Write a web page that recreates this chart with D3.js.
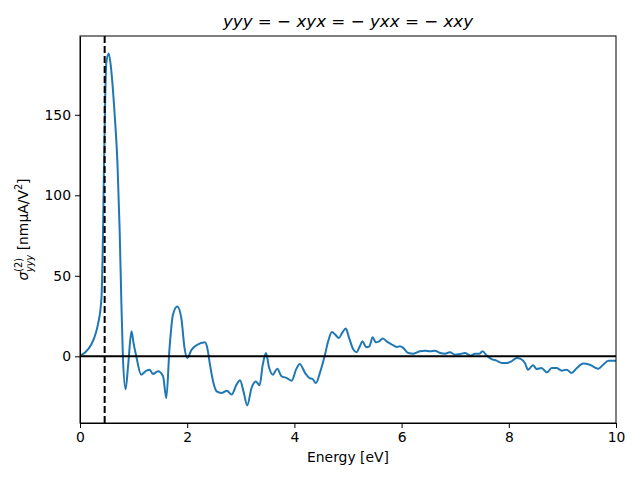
<!DOCTYPE html>
<html>
<head>
<meta charset="utf-8">
<script src="https://cdn.jsdelivr.net/npm/d3@7"></script>
<style>
  body { margin: 0; background: #fff; }
  text { font-family: "DejaVu Sans", sans-serif; }
  .axis path, .axis line { stroke: #000; stroke-width: 1; }
  .axis text { font-size: 13.9px; fill: #000; }
</style>
</head>
<body>
<div id="chart"></div>
<script>
// energy [eV] and sigma values
var energy = [0.00, 0.10, 0.21, 0.30, 0.336, 0.40, 0.43, 0.448, 0.47, 0.49, 0.535, 0.585, 0.647, 0.70, 0.74, 0.77, 0.80, 0.85, 0.90, 0.96,
  1.00, 1.05, 1.14, 1.24, 1.30, 1.36, 1.455, 1.55, 1.61, 1.67, 1.735, 1.815, 1.89, 1.95, 2.00, 2.08, 2.18, 2.33, 2.375, 2.425,
  2.49, 2.55, 2.64, 2.74, 2.83, 2.92, 2.985, 3.05, 3.12, 3.20, 3.28, 3.35, 3.41, 3.47, 3.53, 3.595, 3.68, 3.76, 3.86, 3.95,
  4.03, 4.10, 4.20, 4.28, 4.34, 4.40, 4.48, 4.57, 4.63, 4.70, 4.76, 4.83, 4.89, 4.96, 5.02, 5.10, 5.16, 5.22, 5.27, 5.34,
  5.40, 5.46, 5.52, 5.58, 5.65, 5.72, 5.82, 5.91, 5.97, 6.03, 6.125, 6.22, 6.34, 6.44, 6.53, 6.62, 6.72, 6.81, 6.90, 7.00,
  7.09, 7.18, 7.29, 7.37, 7.45, 7.51, 7.59, 7.68, 7.77, 7.87, 7.96, 8.05, 8.15, 8.24, 8.30, 8.36, 8.45, 8.52, 8.61, 8.71,
  8.80, 8.89, 8.99, 9.08, 9.17, 9.27, 9.39, 9.51, 9.67, 9.76, 9.86, 10.0]
var sigma = [0.5, 2.5, 7.3, 15, 20, 36, 78, 119, 160, 182, 188, 177, 150, 119, 78, 36, 0, -20.5, -5, 15.5,
  8, 0, -11.4, -8.9, -8.3, -11, -9.3, -12.4, -26, 5, 26, 31, 23.8, 5.2, -1, 4, 7, 8.7, 5.2, -5.2,
  -16.6, -21.8, -22.8, -21.4, -23.8, -17.6, -14.9, -21.8, -30.5, -19.7, -15.6, -18, -5.2, 2, -7.3, -11.4, -7.7, -12.4, -13.5, -15.2,
  -8.3, -4.8, -10.4, -13.5, -14.1, -16.6, -9.8, 1, 9.3, 15.1, 13.5, 11.4, 14.5, 17.2, 11.4, 4.2, 2.5, 6.2, 9.3, 5.6,
  6.2, 11.8, 8.7, 9.3, 11, 9.3, 7.3, 5.8, 6.2, 5.2, 2, 1.6, 3.1, 3.5, 3.1, 3.5, 2, 1.6, 2.5, 1,
  1.4, 2, 0.4, 1.6, 1.6, 3.1, 0.4, -1.7, -2.7, -4.2, -4.2, -3.1, -1, -2, -4.2, -8.3, -5.6, -7.9, -7.3, -10,
  -7.3, -7.3, -8.9, -8.3, -10.4, -7.3, -4.5, -5.2, -7.7, -5.2, -2.7, -2.7]
var gap_energy = 0.46
var x_ticks = [0, 2, 4, 6, 8, 10]
var y_ticks = [0, 50, 100, 150]

var data = energy.map(function (e, i) { return {e: e, s: sigma[i]} })

var margin = {top: 36, right: 24, bottom: 57, left: 80},
    width = 640 - margin.left - margin.right,
    height = 480 - margin.top - margin.bottom

var svg = d3.select("#chart")
  .append("svg")
  .attr("width", 640)
  .attr("height", 480)

var g = svg.append("g")
  .attr("transform", "translate(" + margin.left + "," + margin.top + ")")

var x_scale = d3.scaleLinear().domain([0, 10]).range([0, width])

// matplotlib style 5% margin on y
var y_min = d3.min(sigma), y_max = d3.max(sigma), pad = (y_max - y_min) * 0.05
var y_scale = d3.scaleLinear().domain([y_min - pad, y_max + pad]).range([height, 0])

g.append("defs").append("clipPath").attr("id", "clip")
  .append("rect").attr("width", width).attr("height", height)

var line = d3.line()
  .x(function (d) { return x_scale(d.e) })
  .y(function (d) { return y_scale(d.s) })
  .curve(d3.curveMonotoneX)

g.append("path")
  .datum(data)
  .attr("clip-path", "url(#clip)")
  .attr("fill", "none")
  .attr("stroke", "#1f77b4")
  .attr("stroke-width", 2)
  .attr("stroke-linejoin", "round")
  .attr("d", line)

// zero line
g.append("line")
  .attr("x1", 0).attr("x2", width)
  .attr("y1", y_scale(0)).attr("y2", y_scale(0))
  .attr("stroke", "#000").attr("stroke-width", 2)

// band gap line
g.append("line")
  .attr("x1", x_scale(gap_energy)).attr("x2", x_scale(gap_energy))
  .attr("y1", 0).attr("y2", height)
  .attr("stroke", "#000").attr("stroke-width", 2)
  .attr("stroke-dasharray", "7,3")

// axes
g.append("g").attr("class", "axis")
  .attr("transform", "translate(0," + height + ")")
  .call(d3.axisBottom(x_scale).tickValues(x_ticks).tickSize(5).tickPadding(4).tickSizeOuter(0))
g.append("g").attr("class", "axis")
  .call(d3.axisLeft(y_scale).tickValues(y_ticks).tickSize(5).tickPadding(4).tickSizeOuter(0))

g.append("rect")
  .attr("width", width).attr("height", height)
  .attr("fill", "none").attr("stroke", "#000").attr("stroke-width", 1)

// title
var title = svg.append("text")
  .attr("x", margin.left + width / 2).attr("y", 27)
  .attr("text-anchor", "middle")
  .style("font-size", "16.7px")
var parts = [["yyy", true], [" = \u2212 ", false], ["xyx", true], [" = \u2212 ", false], ["yxx", true], [" = \u2212 ", false], ["xxy", true]]
parts.forEach(function (p) {
  title.append("tspan").style("font-style", p[1] ? "italic" : "normal").style("white-space", "pre").text(p[0])
})
title.attr("xml:space", "preserve")

// x label
svg.append("text")
  .attr("x", margin.left + width / 2).attr("y", 462)
  .attr("text-anchor", "middle")
  .style("font-size", "13.9px")
  .text("Energy [eV]")

// y label
var ylab = svg.append("text")
  .attr("transform", "translate(28," + (margin.top + height / 2) + ") rotate(-90)")
  .attr("text-anchor", "middle")
  .style("font-size", "13.9px")
ylab.append("tspan").style("font-style", "italic").text("\u03c3")
ylab.append("tspan").attr("dy", -6).style("font-size", "9.7px").text("(2)")
ylab.append("tspan").attr("dx", -14).attr("dy", 11).style("font-size", "9.7px").style("font-style", "italic").text("yyy")
ylab.append("tspan").attr("dy", -5).text(" [nm\u03bcA/V")
ylab.append("tspan").attr("dy", -6).style("font-size", "9.7px").text("2")
ylab.append("tspan").attr("dy", 6).text("]")
</script>
</body>
</html>
